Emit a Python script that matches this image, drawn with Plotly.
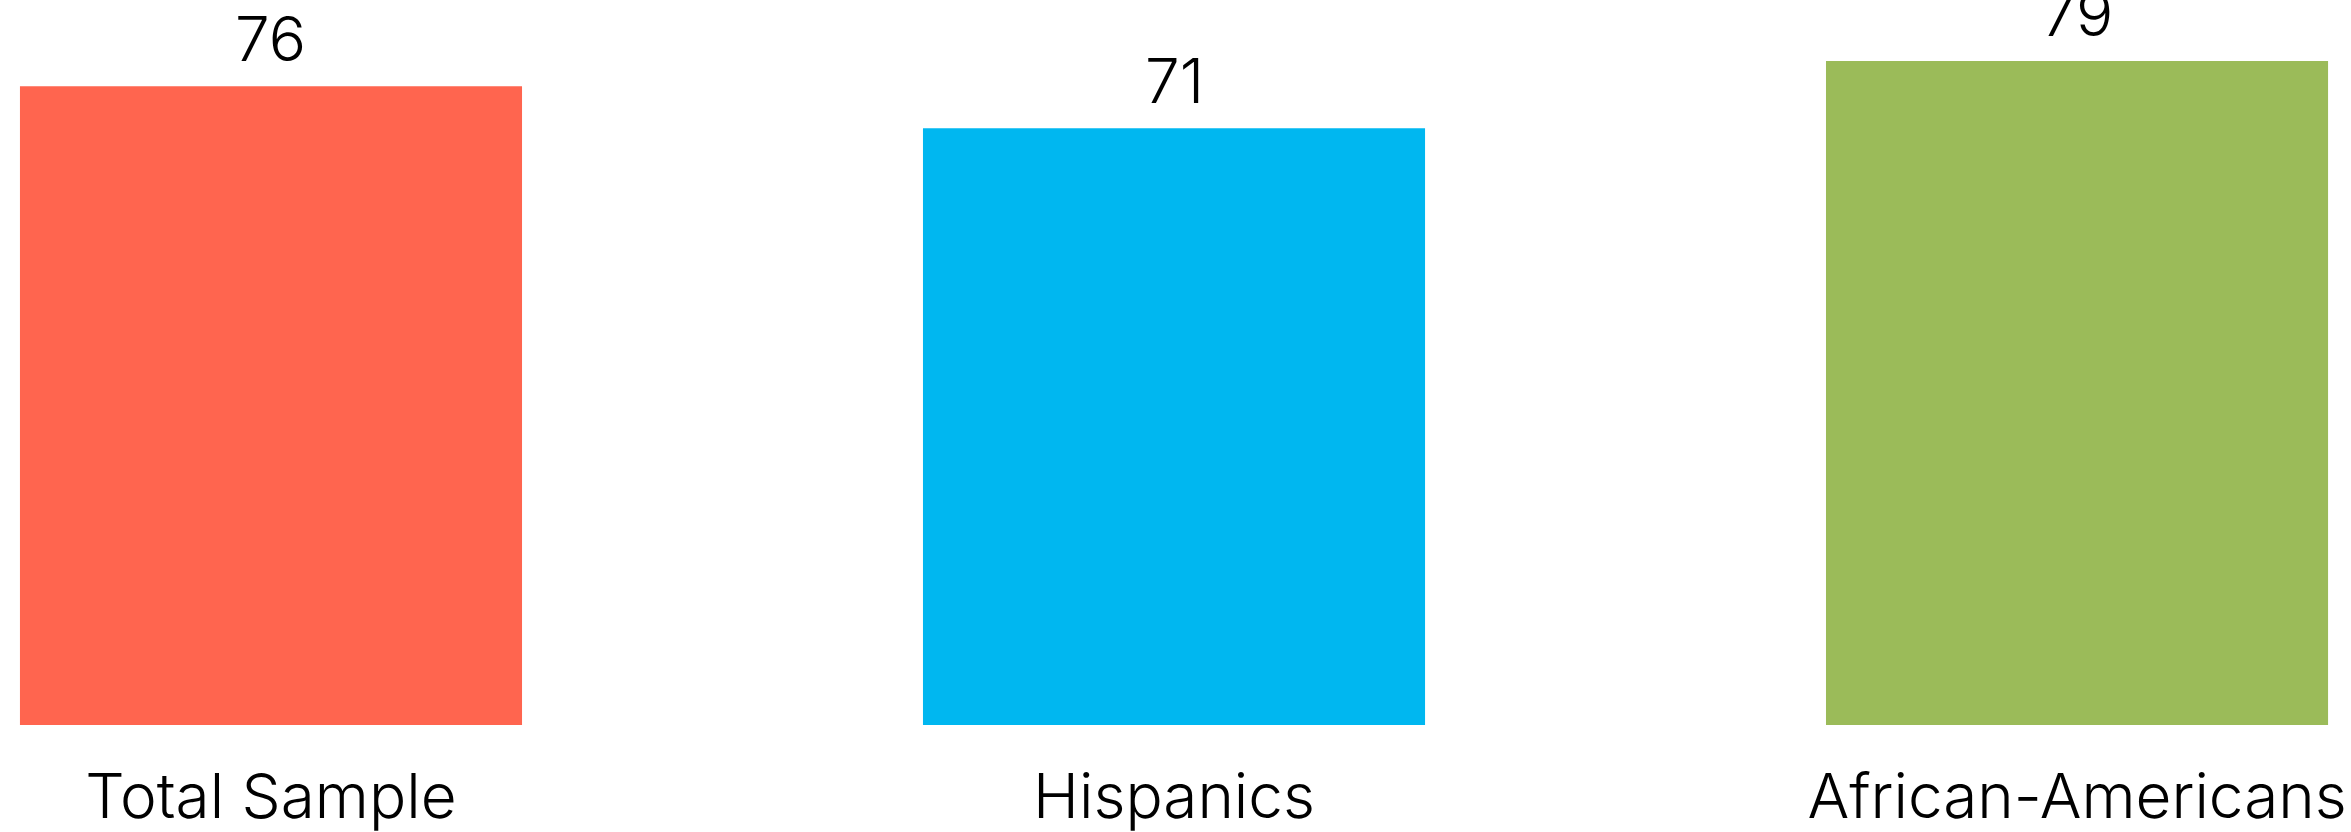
import plotly.graph_objects as go

categories = ["Total Sample", "Hispanics", "African-Americans"]
values = [76, 71, 79]
bar_colors = ["#FF654F", "#00B7F0", "#9BBB59"]

FONT = "Inter"
WEIGHT = 300
SIZE = 62

fig = go.Figure(
    go.Bar(
        x=categories,
        y=values,
        marker=dict(color=bar_colors, line=dict(width=0)),
        width=0.556,
        hoverinfo="x+y",
    )
)

# value labels sitting just above each bar
for cat, val in zip(categories, values):
    fig.add_annotation(
        x=cat,
        y=val,
        text=str(val),
        showarrow=False,
        xanchor="center",
        yanchor="bottom",
        yshift=8,
        font=dict(family=FONT, size=SIZE, color="#000000", weight=WEIGHT),
    )

fig.update_layout(
    width=2351,
    height=832,
    margin=dict(l=0, r=0, t=0, b=107, pad=0),
    paper_bgcolor="white",
    plot_bgcolor="white",
    showlegend=False,
    font=dict(family=FONT, size=SIZE, color="#000000", weight=WEIGHT),
)
fig.update_xaxes(
    type="category",
    range=[-0.3001, 2.3034],
    showgrid=False,
    zeroline=False,
    showline=False,
    ticks="outside",
    ticklen=18,
    tickcolor="rgba(0,0,0,0)",
    tickfont=dict(family=FONT, size=SIZE, color="#000000", weight=WEIGHT),
)
fig.update_yaxes(
    range=[0, 86.27],
    visible=False,
    showgrid=False,
    zeroline=False,
)

fig.write_html("out.html")
